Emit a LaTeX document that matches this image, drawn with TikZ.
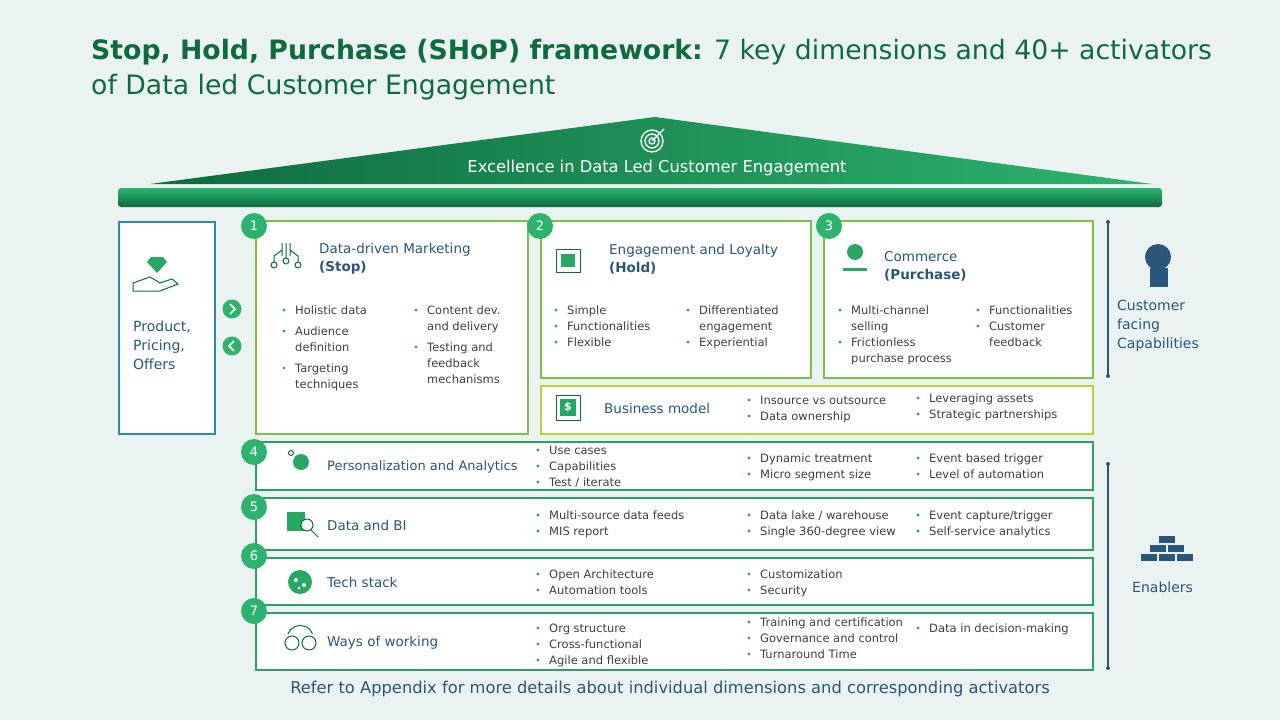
\documentclass[tikz,border=0pt]{standalone}
\usepackage{fontspec}
\setmainfont{DejaVu Sans}
\usetikzlibrary{positioning,calc}
\definecolor{bgc}{HTML}{EAF3F1}
\definecolor{dkg}{HTML}{0E6B3E}
\definecolor{mdg}{HTML}{26A764}
\definecolor{ltg}{HTML}{2DB36E}
\definecolor{ygr}{HTML}{B5D334}
\definecolor{rowg}{HTML}{2E9E62}
\definecolor{hdc}{HTML}{2A5679}
\definecolor{txc}{HTML}{3F3F3F}
\definecolor{lbx}{HTML}{2F86B0}
\tikzstyle{num}=[circle, fill=ltg, text=white, minimum size=26pt, inner sep=0pt, font=\fontsize{13}{13}\selectfont]
\tikzstyle{panel}=[draw=mdg, line width=2pt, fill=white]
\tikzstyle{rowbox}=[draw=rowg, line width=2pt, fill=white]
\tikzstyle{head}=[anchor=west, text=hdc, font=\fontsize{13.5}{18}\selectfont, align=left, inner sep=0pt]
\tikzstyle{item}=[anchor=north west, text=txc, font=\fontsize{11.5}{16}\selectfont, align=left, inner sep=0pt]
\tikzstyle{side}=[anchor=west, text=hdc, font=\fontsize{14}{19}\selectfont, align=left, inner sep=0pt]
\tikzstyle{icon}=[draw=dkg, line width=1pt]
\tikzstyle{chev}=[white, line width=1.5pt]
\newcommand{\bul}[3]{%
  \fill[mdg] (#1,#2) circle (1.6pt);
  \node[item] at ($(#1,#2)+(11,-4.5)$) {#3};}
\begin{document}
\begin{tikzpicture}[x=1pt, y=-1pt]
    \fill[bgc] (0,0) rectangle (1280,720);
    \useasboundingbox (0,0) rectangle (1280,720);
    % title
    \node[anchor=west, text=dkg, font=\fontsize{26.7}{35}\selectfont, align=left, inner sep=0pt] (title) at (91,70)
      {\textbf{Stop, Hold, Purchase (SHoP) framework:} 7 key dimensions and 40+ activators\\of Data led Customer Engagement};
    % roof
    \shade[left color=dkg, right color=ltg] (150,184) -- (655,117) -- (1152,184) -- cycle;
    \shade[rounded corners=3pt, top color=ltg, bottom color=dkg] (118,188) rectangle (1162,207);
    \draw[white, line width=1.3pt] (652,141) circle (11) (652,141) circle (7) (652,141) circle (3);
    \draw[white, line width=1.3pt] (652,141) -- (664,129);
    \node[text=white, font=\fontsize{16.3}{20}\selectfont] (roof) at (657,168) {Excellence in Data Led Customer Engagement};
    % left box
    \node[draw=lbx, line width=2pt, fill=white, minimum width=96pt, minimum height=212pt] (ppo) at (166.5,327.5) {};
    \node[side] at (133,345) {Product,\\Pricing,\\Offers};
    \fill[mdg] (147,262) -- (151,257) -- (163,257) -- (167,262) -- (157,273) -- cycle;
    \draw[icon] (133,291) -- (133,283) -- (150,277) -- (160,283) -- (172,279) -- (178,284) -- (160,291) -- cycle;
    \node[circle, fill=ltg, minimum size=19pt, inner sep=0pt] (fwd) at (232,309) {};
    \node[circle, fill=ltg, minimum size=19pt, inner sep=0pt] (bwd) at (232,346) {};
    \draw[chev] ($(fwd)+(-2,-5)$) -- ($(fwd)+(3,0)$) -- ($(fwd)+(-2,5)$);
    \draw[chev] ($(bwd)+(2,-5)$) -- ($(bwd)+(-3,0)$) -- ($(bwd)+(2,5)$);
    % panels
    \draw[panel, draw=ygr!60!mdg] (256,221) rectangle (528,434);
    \draw[panel, draw=ygr!60!mdg] (541,221) rectangle (811,378);
    \draw[panel, draw=ygr!60!mdg] (824,221) rectangle (1093,378);
    \draw[panel, draw=ygr] (541,386) rectangle (1093,434);
    \node[num] (n1) at (254,226) {1};
    \node[num] (n2) at (540,226) {2};
    \node[num] (n3) at (829,226) {3};
    % panel 1
    \draw[icon] (274,265) circle (3) (286,261) circle (3) (298,265) circle (3);
    \draw[icon] (282,243) -- (282,256) (286,243) -- (286,258) (290,243) -- (290,256) (282,250) -- (274,256) -- (274,262) (290,250) -- (298,256) -- (298,262);
    \node[head] at (319,259) {Data-driven Marketing\\\textbf{(Stop)}};
    \bul{284}{310}{Holistic data}
    \bul{284}{331}{Audience\\definition}
    \bul{284}{368}{Targeting\\techniques}
    \bul{416}{310}{Content dev.\\and delivery}
    \bul{416}{347}{Testing and\\feedback\\mechanisms}
    % panel 2
    \draw[icon, fill=white] (556,249) rectangle (580,272);
    \fill[mdg] (561,254) rectangle (575,267);
    \node[head] at (609,259) {Engagement and Loyalty\\\textbf{(Hold)}};
    \bul{556}{310}{Simple}
    \bul{556}{326}{Functionalities}
    \bul{556}{342}{Flexible}
    \bul{688}{310}{Differentiated\\engagement}
    \bul{688}{342}{Experiential}
    % panel 3
    \fill[mdg] (855,252) circle (8);
    \fill[mdg] (843,268) rectangle (867,271);
    \node[head] at (884,266) {Commerce\\\textbf{(Purchase)}};
    \bul{840}{310}{Multi-channel\\selling}
    \bul{840}{342}{Frictionless\\purchase process}
    \bul{978}{310}{Functionalities}
    \bul{978}{326}{Customer\\feedback}
    % business model
    \draw[icon, fill=white] (556,395) rectangle (580,420);
    \fill[mdg] (560,399) rectangle (576,416);
    \node[text=white, font=\bfseries\fontsize{11}{11}\selectfont] at (568,407.5) {\$};
    \node[head] at (604,408) {Business model};
    \bul{749}{400}{Insource vs outsource}
    \bul{749}{416}{Data ownership}
    \bul{918}{398}{Leveraging assets}
    \bul{918}{414}{Strategic partnerships}
    % enabler rows
    \draw[rowbox] (256,442) rectangle (1093,490);
    \draw[rowbox] (256,498) rectangle (1093,550);
    \draw[rowbox] (256,558) rectangle (1093,605);
    \draw[rowbox] (256,613) rectangle (1093,670);
    \node[num] (n4) at (254,452) {4};
    \node[num] (n5) at (254,507) {5};
    \node[num] (n6) at (254,556) {6};
    \node[num] (n7) at (254,611) {7};
    % row 4
    \fill[mdg] (301,462) circle (8);
    \draw[icon] (291,453) circle (2.5);
    \node[head, font=\fontsize{13}{18}\selectfont] at (327,467) {Personalization and Analytics};
    \bul{538}{450}{Use cases}
    \bul{538}{466}{Capabilities}
    \bul{538}{482}{Test / iterate}
    \bul{749}{458}{Dynamic treatment}
    \bul{749}{474}{Micro segment size}
    \bul{918}{458}{Event based trigger}
    \bul{918}{474}{Level of automation}
    % row 5
    \fill[mdg] (287,512) rectangle (305,531);
    \draw[icon, fill=white] (307,525) circle (6);
    \draw[icon] (311,530) -- (318,537);
    \node[head] at (327,525) {Data and BI};
    \bul{538}{515}{Multi-source data feeds}
    \bul{538}{531}{MIS report}
    \bul{749}{515}{Data lake / warehouse}
    \bul{749}{531}{Single 360-degree view}
    \bul{918}{515}{Event capture/trigger}
    \bul{918}{531}{Self-service analytics}
    % row 6
    \fill[mdg] (300,582) circle (12);
    \fill[white] (296,580) circle (2) (304,585) circle (2) (299,588) circle (1.5);
    \node[head] at (327,582) {Tech stack};
    \bul{538}{574}{Open Architecture}
    \bul{538}{590}{Automation tools}
    \bul{749}{574}{Customization}
    \bul{749}{590}{Security}
    % row 7
    \draw[icon] (292,643) circle (7) (309,643) circle (7);
    \draw[icon] (288,634) arc (200:340:13);
    \node[head] at (327,643) {Ways of working};
    \bul{538}{628}{Org structure}
    \bul{538}{644}{Cross-functional}
    \bul{538}{660}{Agile and flexible}
    \bul{749}{622}{Training and certification}
    \bul{749}{638}{Governance and control}
    \bul{749}{654}{Turnaround Time}
    \bul{918}{628}{Data in decision-making}
    % right side
    \draw[hdc, line width=1.5pt] (1108,222) -- (1108,376);
    \fill[hdc] (1108,222) circle (2) (1108,376) circle (2);
    \draw[hdc, line width=1.5pt] (1108,464) -- (1108,668);
    \fill[hdc] (1108,464) circle (2) (1108,668) circle (2);
    \fill[hdc] (1158,257) circle (13);
    \fill[hdc] (1150,268) rectangle (1168,287);
    \node[side] (cfc) at (1117,326) {Customer\\facing\\Capabilities};
    \foreach \bx/\by in {1141/554, 1159/554, 1177/554, 1150/545, 1168/545, 1159/536}
      \fill[hdc] (\bx,\by) rectangle ++(16,7);
    \node[side] (enb) at (1132,587) {Enablers};
    % footer
    \node[text=hdc, font=\fontsize{16.3}{18}\selectfont] (foot) at (670,689)
      {Refer to Appendix for more details about individual dimensions and corresponding activators};
\end{tikzpicture}
\end{document}
